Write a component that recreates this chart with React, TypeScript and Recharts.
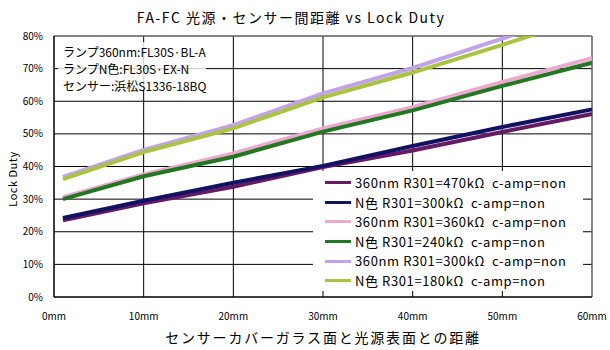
import React from "react";
import { LineChart, Line, XAxis, YAxis, CartesianGrid, ReferenceLine, Legend } from "recharts";

// distance from sensor cover glass to lamp surface (mm)
const distances = [1, 10, 20, 30, 40, 50, 52, 55, 60];
// Lock Duty (%)
const s360nm470k = [23.5, 28.7, 33.8, 39.8, 44.9, 50.6, null, null, 56.1];
const sN300k = [24.2, 29.5, 35.0, 40.2, 46.3, 52.1, null, null, 57.5];
const s360nm360k = [30.6, 37.6, 44.0, 51.7, 58.2, 65.9, null, null, 73.2];
const sN240k = [30.0, 37.0, 43.0, 50.7, 57.2, 64.7, null, null, 71.8];
const s360nm300k = [36.8, 45.1, 52.7, 62.4, 70.2, 79.2, 81.0, null, null];
const sN180k = [36.1, 44.4, 51.7, 61.2, 68.8, 77.3, null, 81.7, null];

const seriesNames = [
  "360nm R301=470kΩ  c-amp=non",
  "N色 R301=300kΩ  c-amp=non",
  "360nm R301=360kΩ  c-amp=non",
  "N色 R301=240kΩ  c-amp=non",
  "360nm R301=300kΩ  c-amp=non",
  "N色 R301=180kΩ  c-amp=non",
];
const seriesColors = ["#661a66", "#121262", "#eca8cf", "#217821", "#c4a2e8", "#a9c43f"];
const seriesValues = [s360nm470k, sN300k, s360nm360k, sN240k, s360nm300k, sN180k];

const xTicks = [0, 10, 20, 30, 40, 50, 60];
const xMinorTicks = [0, 2, 4, 6, 8, 10, 12, 14, 16, 18, 20, 22, 24, 26, 28, 30, 32, 34, 36, 38, 40, 42, 44, 46, 48, 50, 52, 54, 56, 58, 60];
const yTicks = [0, 10, 20, 30, 40, 50, 60, 70, 80];
const yMinorTicks = [0, 2, 4, 6, 8, 10, 12, 14, 16, 18, 20, 22, 24, 26, 28, 30, 32, 34, 36, 38, 40, 42, 44, 46, 48, 50, 52, 54, 56, 58, 60, 62, 64, 66, 68, 70, 72, 74, 76, 78, 80];

const titleText = "FA-FC 光源・センサー間距離 vs Lock Duty";
const xAxisTitle = "センサーカバーガラス面と光源表面との距離";
const yAxisTitle = "Lock Duty";
const noteLines = ["ランプ360nm:FL30S·BL-A", "ランプN色:FL30S·EX-N", "センサー:浜松S1336-18BQ"];

const rows = distances.map((d, i) => {
  const r: any = { d };
  seriesValues.forEach((s, k) => {
    r["s" + k] = s[i];
  });
  return r;
});

const FONT = "'Noto Sans CJK JP', sans-serif";

const LegendContent = () => (
  <div style={{ background: "#fff", width: 270, height: 120, paddingTop: 2, boxSizing: "border-box", fontFamily: FONT }}>
    {seriesNames.map((n, i) => (
      <div key={n} style={{ display: "flex", alignItems: "center", height: 19.6 }}>
        <span style={{ display: "inline-block", marginLeft: 12, width: 26, height: 3, background: seriesColors[i] }} />
        <span style={{ marginLeft: 4, fontSize: 13, letterSpacing: 0.6, whiteSpace: "pre", color: "#000", lineHeight: "19.6px" }}>
          {n}
        </span>
      </div>
    ))}
  </div>
);

export default function App() {
  return (
    <div style={{ width: 610, height: 350, background: "#fff" }}>
      <style>{"body{margin:0;background:#fff}"}</style>
      <LineChart width={610} height={350} data={rows} margin={{ top: 36, right: 18, bottom: 0, left: 0 }} style={{ fontFamily: FONT }}>
        <CartesianGrid stroke="#000" />
        <XAxis
          xAxisId="minor"
          dataKey="d"
          type="number"
          domain={[0, 60]}
          ticks={xMinorTicks}
          interval={0}
          height={0}
          mirror
          tickSize={3}
          tickFormatter={() => ""}
          axisLine={false}
          tickLine={{ stroke: "#000" }}
        />
        <XAxis
          dataKey="d"
          type="number"
          domain={[0, 60]}
          ticks={xTicks}
          interval={0}
          height={53}
          tickLine={false}
          tickSize={0}
          tickMargin={16}
          axisLine={{ stroke: "#000" }}
          tick={{ fontSize: 10, fill: "#000" }}
          tickFormatter={(v: number) => `${v}mm`}
        />
        <YAxis
          yAxisId="minor"
          type="number"
          domain={[0, 80]}
          ticks={yMinorTicks}
          interval={0}
          width={0}
          mirror
          tickSize={3}
          tickFormatter={() => ""}
          axisLine={false}
          tickLine={{ stroke: "#000" }}
        />
        <YAxis
          type="number"
          domain={[0, 80]}
          ticks={yTicks}
          interval={0}
          width={54}
          allowDataOverflow
          tickLine={false}
          tickSize={0}
          tickMargin={11}
          axisLine={{ stroke: "#000" }}
          tick={{ fontSize: 10, fill: "#000" }}
          tickFormatter={(v: number) => `${v}%`}
        />
        <ReferenceLine y={80} stroke="#8c8c8c" />
        <ReferenceLine x={60} stroke="#8c8c8c" />
        {seriesNames.map((n, k) => (
          <Line
            key={n}
            type="linear"
            dataKey={"s" + k}
            name={n}
            stroke={seriesColors[k]}
            strokeWidth={4}
            dot={false}
            activeDot={false}
            connectNulls
            isAnimationActive={false}
          />
        ))}
        <Legend
          layout="vertical"
          align="center"
          verticalAlign="middle"
          content={<LegendContent />}
          wrapperStyle={{ left: 313, top: 171, width: 270, height: 120 }}
        />
        <g>
          <rect x={58} y={42} width={148} height={48} fill="#fff" fillOpacity={0.8} />
          {noteLines.map((t, i) => (
            <text key={i} x={63} y={57 + i * 17} fontSize={12} fill="#000" fontFamily={FONT}>
              {t}
            </text>
          ))}
          <text x={291} y={22.5} textAnchor="middle" fontSize={14} letterSpacing={1.5} fill="#000" fontFamily={FONT}>
            {titleText}
          </text>
          <text x={323} y={343} textAnchor="middle" fontSize={14} letterSpacing={1.8} fill="#000" fontFamily={FONT}>
            {xAxisTitle}
          </text>
          <text x={17} y={179} transform="rotate(-90 17 179)" textAnchor="middle" fontSize={11} letterSpacing={0.5} fill="#000" fontFamily={FONT}>
            {yAxisTitle}
          </text>
        </g>
      </LineChart>
    </div>
  );
}
